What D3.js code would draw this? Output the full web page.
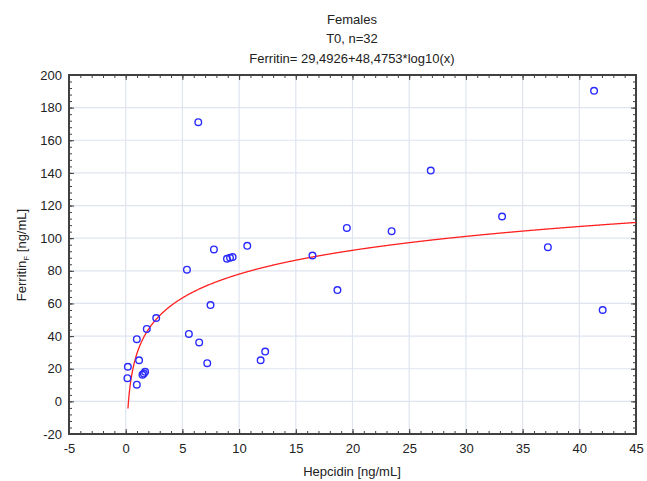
<!DOCTYPE html>
<html><head><meta charset="utf-8">
<script src="https://cdn.jsdelivr.net/npm/d3@7"></script>
<style>body{margin:0;background:#fff}text{font-family:"Liberation Sans",Arial,sans-serif}</style>
</head><body><svg id="c" width="647" height="481"></svg>
<script>
const titleLines = ["Females", "T0, n=32", "Ferritin= 29,4926+48,4753*log10(x)"];
const hepcidin = [0.19,0.15,0.98,0.98,1.18,1.48,1.71,1.86,2.69,5.57,6.48,7.19,7.48,11.9,12.3,6.40,5.40,7.78,8.93,9.43,10.72,16.47,19.5,18.67,23.45,26.9,33.19,37.23,41.3,42.06,1.6,9.2];
const ferritin = [21.2,14.2,10.2,38.1,25.2,16.3,18.1,44.4,51.1,41.3,36.1,23.4,59.0,25.2,30.5,171.1,80.7,93.1,87.4,88.4,95.3,89.4,106.3,68.2,104.3,141.4,113.3,94.5,190.3,56.0,17.0,88.0];
const fitA = 29.4926, fitB = 48.4753;
const xTicks = [-5,0,5,10,15,20,25,30,35,40,45];
const yTicks = [-20,0,20,40,60,80,100,120,140,160,180,200];

const svg = d3.select("#c");
const L=69,R=636,T=75,B=434;
const x = d3.scaleLinear().domain([-5,45]).range([L,R]);
const y = d3.scaleLinear().domain([-20,200]).range([B,T]);

// grid
const g = svg.append("g");
g.selectAll(".gx").data(xTicks.slice(1,-1)).join("line")
 .attr("x1",d=>x(d)).attr("x2",d=>x(d)).attr("y1",T).attr("y2",B)
 .attr("stroke","#dfe4ef").attr("stroke-width",1.2);
g.selectAll(".gy").data(yTicks.slice(1,-1)).join("line")
 .attr("y1",d=>y(d)).attr("y2",d=>y(d)).attr("x1",L).attr("x2",R)
 .attr("stroke","#dfe4ef").attr("stroke-width",1.2);

// axes with inward ticks
const minorX = d3.range(-5,45.01,1), minorY = d3.range(-20,200.01,4);
function addAxis(axis, tr){ const a=svg.append("g").attr("transform",tr).call(axis); a.select(".domain").remove(); a.selectAll("line").attr("stroke","#404040"); return a;}
addAxis(d3.axisBottom(x).tickValues(minorX).tickSize(-3).tickFormat(""),`translate(0,${B})`);
addAxis(d3.axisTop(x).tickValues(minorX).tickSize(-3).tickFormat(""),`translate(0,${T})`);
addAxis(d3.axisLeft(y).tickValues(minorY).tickSize(-3).tickFormat(""),`translate(${L},0)`);
addAxis(d3.axisRight(y).tickValues(minorY).tickSize(-3).tickFormat(""),`translate(${R},0)`);
addAxis(d3.axisBottom(x).tickValues(xTicks).tickSize(-5).tickFormat(""),`translate(0,${B})`);
addAxis(d3.axisTop(x).tickValues(xTicks).tickSize(-5).tickFormat(""),`translate(0,${T})`);
addAxis(d3.axisLeft(y).tickValues(yTicks).tickSize(-5).tickFormat(""),`translate(${L},0)`);
addAxis(d3.axisRight(y).tickValues(yTicks).tickSize(-5).tickFormat(""),`translate(${R},0)`);

// labels
const ax = svg.append("g").attr("transform",`translate(0,${B})`)
 .call(d3.axisBottom(x).tickValues(xTicks).tickSize(0).tickPadding(10).tickFormat(d=>d));
ax.select(".domain").remove();
ax.selectAll("text").attr("font-size",13).attr("fill","#222").style("font-family","Liberation Sans, Arial");
const ay = svg.append("g").attr("transform",`translate(${L},0)`)
 .call(d3.axisLeft(y).tickValues(yTicks).tickSize(0).tickPadding(7).tickFormat(d=>d));
ay.select(".domain").remove();
ay.selectAll("text").attr("font-size",13).attr("fill","#222").style("font-family","Liberation Sans, Arial");

// frame
svg.append("rect").attr("x",L).attr("y",T).attr("width",R-L).attr("height",B-T)
 .attr("fill","none").attr("stroke","#404040").attr("stroke-width",2);

// fit curve
const xs = d3.range(0.2,45.001,0.05);
svg.append("path").datum(xs).attr("fill","none").attr("stroke","#ff2020").attr("stroke-width",1.3)
 .attr("d",d3.line().x(d=>x(d)).y(d=>y(fitA+fitB*Math.log10(d))));

// points
svg.append("g").selectAll("circle").data(hepcidin.map((h,i)=>[h,ferritin[i]])).join("circle")
 .attr("cx",d=>x(d[0])).attr("cy",d=>y(d[1])).attr("r",3.3)
 .attr("fill","none").attr("stroke","#2a2aff").attr("stroke-width",1.4);

// titles
svg.selectAll(".t").data(titleLines).join("text")
 .attr("x",352).attr("y",(d,i)=>23.5+i*19.8).attr("text-anchor","middle")
 .attr("font-size",13).attr("fill","#222").text(d=>d);

svg.append("text").attr("x",352).attr("y",476).attr("text-anchor","middle")
 .attr("font-size",13).attr("fill","#222").text("Hepcidin [ng/mL]");
const yl = svg.append("text").attr("transform",`translate(26,255) rotate(-90)`)
 .attr("text-anchor","middle").attr("font-size",13).attr("fill","#222");
yl.append("tspan").text("Ferritin");
yl.append("tspan").attr("font-size",8).attr("dy",3).text("F");
yl.append("tspan").attr("dy",-3).text(" [ng/mL]");
</script></body></html>
